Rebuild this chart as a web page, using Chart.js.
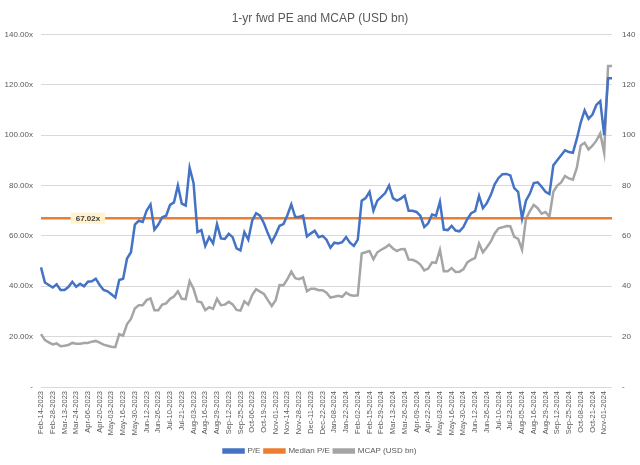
<!DOCTYPE html>
<html>
<head>
<meta charset="utf-8">
<script src="https://cdn.jsdelivr.net/npm/chart.js@4.4.1/dist/chart.umd.min.js"></script>
<style>
  html, body { margin: 0; padding: 0; background: #fff; }
</style>
</head>
<body>
<canvas id="peChart" width="640" height="465"></canvas>
<script>
// Tick labels on the x axis (one every 3 points)
const tickLabels = [
  'Feb-14-2023', 'Feb-28-2023', 'Mar-13-2023', 'Mar-24-2023', 'Apr-06-2023', 'Apr-20-2023',
  'May-03-2023', 'May-16-2023', 'May-30-2023', 'Jun-12-2023', 'Jun-26-2023', 'Jul-10-2023',
  'Jul-21-2023', 'Aug-03-2023', 'Aug-16-2023', 'Aug-29-2023', 'Sep-12-2023', 'Sep-25-2023',
  'Oct-06-2023', 'Oct-19-2023', 'Nov-01-2023', 'Nov-14-2023', 'Nov-28-2023', 'Dec-11-2023',
  'Dec-22-2023', 'Jan-08-2024', 'Jan-22-2024', 'Feb-02-2024', 'Feb-15-2024', 'Feb-29-2024',
  'Mar-13-2024', 'Mar-26-2024', 'Apr-09-2024', 'Apr-22-2024', 'May-03-2024', 'May-16-2024',
  'May-30-2024', 'Jun-12-2024', 'Jun-26-2024', 'Jul-10-2024', 'Jul-23-2024', 'Aug-05-2024',
  'Aug-16-2024', 'Aug-29-2024', 'Sep-12-2024', 'Sep-25-2024', 'Oct-08-2024', 'Oct-21-2024',
  'Nov-01-2024'
];

// 1-yr fwd P/E (x)
const peValues = [
  47.5, 41.5, 40.5, 39.5, 40.8, 38.5, 38.5, 39.7, 41.8, 39.8, 41, 40, 41.8, 42, 43, 40.5, 38.5, 38, 36.8, 35.5,
  42.5, 43, 51, 53.5, 64.5, 66, 65.5, 70, 72.5, 62.5, 64.5, 67.4, 68, 72.3, 73.3, 80, 72.8, 72, 87, 81,
  61.5, 62.3, 56, 59.5, 57, 64.7, 59, 58.8, 60.8, 59.5, 55, 54.2, 61.5, 58.5, 66, 69, 68, 65, 61, 57.5,
  60.5, 64, 64.7, 68.2, 72.5, 67.5, 67.5, 68, 59.8, 61, 62, 59.5, 60, 58.5, 55.3, 57.3, 57, 57.5, 59.5, 57.3,
  56, 58.5, 74, 75, 77.5, 70, 74, 75.5, 77, 80, 75, 74, 74.8, 76, 70, 70, 69.5, 68, 63.5, 65,
  68.5, 68, 73.5, 62.5, 62.3, 64, 62.1, 61.8, 63.5, 66.7, 69, 69.8, 75.9, 71, 73, 76.2, 80.5, 83, 84.5, 84.6,
  84, 79, 77.5, 67, 74, 76.8, 81, 81.3, 79.5, 77.5, 76.6, 88, 90, 92, 94, 93.3, 93, 98.5, 105, 109.8,
  106.5, 108.2, 112, 113.5, 100, 122.6, 122.6
];

// Market cap (USD bn)
const mcapValues = [
  21, 18.6, 17.7, 16.9, 17.3, 16.2, 16.4, 16.7, 17.5, 17.2, 17.2, 17.5, 17.5, 18, 18.3, 17.6, 16.8, 16.4, 16, 15.8,
  21, 20.4, 25, 27, 31.2, 32.5, 32.5, 34.5, 35.2, 30.5, 30.5, 32.7, 33.2, 35, 35.9, 38, 35, 34.9, 42, 39,
  34, 33.6, 30.5, 31.7, 31, 35, 32.5, 32.7, 33.8, 32.8, 30.6, 30.3, 34, 32.7, 36.5, 38.8, 37.9, 37, 34.5, 32.2,
  34.5, 40.5, 40.4, 42.8, 45.8, 43.2, 42.8, 43.5, 38, 39, 39, 38.4, 38.4, 37.4, 35.5, 35.8, 36.2, 35.8, 37.5, 36.5,
  36.2, 36.4, 53, 53.5, 54, 50.7, 53.5, 54.5, 55.3, 56.5, 55, 54, 54.7, 54.8, 50.6, 50.5, 49.8, 48.6, 46.3, 47,
  49.5, 49.3, 54.5, 46, 46, 47.2, 45.7, 45.8, 46.7, 49.5, 50.5, 51.3, 57, 53.5, 55.5, 57.7, 61, 63, 63.4, 63.9,
  63.8, 59.6, 58.8, 54.5, 66.8, 69.8, 72.3, 71, 68.8, 69.5, 67.6, 77.5, 80, 81.2, 83.8, 82.8, 82.3, 87, 95.9, 97,
  94.3, 95.8, 97.8, 100.7, 93, 127.5, 127.5
];

const medianPE = 67.02;
const medianLabelIndex = 12;
const pointsPerTick = 3;

// one category per point, with a date shown every 3rd point
const labels = peValues.map((_, i) => (i % pointsPerTick === 0 ? (tickLabels[i / pointsPerTick] || '') : ''));
const medianValues = peValues.map(() => medianPE);

const textColor = '#595959';
const font = 'Liberation Sans, Arial, sans-serif';

// Data label box on the median line
const medianLabel = {
    id: 'medianLabel',
    afterDatasetsDraw(chart) {
        const pt = chart.getDatasetMeta(1).data[medianLabelIndex];
        if (!pt) return;
        const ctx = chart.ctx;
        const text = medianPE.toFixed(2) + 'x';
        ctx.save();
        ctx.font = 'bold 8px ' + font;
        const w = ctx.measureText(text).width + 10;
        const h = 11;
        ctx.fillStyle = '#FFF2CC';
        ctx.fillRect(pt.x - w / 2, pt.y - h / 2, w, h);
        ctx.fillStyle = '#404040';
        ctx.textAlign = 'center';
        ctx.textBaseline = 'middle';
        ctx.fillText(text, pt.x, pt.y + 0.5);
        ctx.restore();
    }
};

const ctx = document.getElementById('peChart').getContext('2d');
new Chart(ctx, {
    type: 'line',
    data: {
        labels: labels,
        datasets: [{
            label: 'P/E',
            data: peValues,
            borderColor: '#4472C4',
            backgroundColor: '#4472C4',
            borderWidth: 2.5,
            pointRadius: 0,
            yAxisID: 'y'
        }, {
            label: 'Median P/E',
            data: medianValues,
            borderColor: '#ED7D31',
            backgroundColor: '#ED7D31',
            borderWidth: 2.5,
            pointRadius: 0,
            yAxisID: 'y'
        }, {
            label: 'MCAP (USD bn)',
            data: mcapValues,
            borderColor: '#A5A5A5',
            backgroundColor: '#A5A5A5',
            borderWidth: 2.5,
            pointRadius: 0,
            yAxisID: 'y1'
        }]
    },
    options: {
        responsive: false,
        animation: false,
        layout: { padding: { left: 0, right: 0, top: 0, bottom: 0 } },
        scales: {
            x: {
                grid: { display: false, drawTicks: false },
                border: { display: false },
                ticks: {
                    autoSkip: false,
                    maxRotation: 90,
                    minRotation: 90,
                    padding: 4,
                    color: textColor,
                    font: { family: font, size: 7.5 }
                },
                afterFit(scale) { scale.height = 56; }
            },
            y: {
                position: 'left',
                min: 0,
                max: 140,
                ticks: {
                    stepSize: 20,
                    padding: 8,
                    color: textColor,
                    font: { family: font, size: 8 },
                    callback: v => (v === 0 ? '-' : v.toFixed(2) + 'x')
                },
                grid: { color: '#D9D9D9', lineWidth: 1, drawTicks: false },
                border: { display: false },
                afterFit(scale) { scale.width = 41; }
            },
            y1: {
                position: 'right',
                min: 0,
                max: 140,
                ticks: {
                    stepSize: 20,
                    padding: 10,
                    color: textColor,
                    font: { family: font, size: 8 },
                    callback: v => (v === 0 ? '-' : v)
                },
                grid: { display: false, drawTicks: false },
                border: { display: false },
                afterFit(scale) { scale.width = 28; }
            }
        },
        plugins: {
            title: {
                display: true,
                text: '1-yr fwd PE and MCAP (USD bn)',
                color: textColor,
                font: { family: font, size: 12, weight: 'normal' },
                padding: { top: 11, bottom: 9 }
            },
            legend: {
                position: 'bottom',
                labels: {
                    color: textColor,
                    font: { family: font, size: 8 },
                    boxWidth: 20,
                    boxHeight: 3,
                    padding: 4
                }
            },
            tooltip: { enabled: false }
        }
    },
    plugins: [medianLabel]
});
</script>
</body>
</html>
